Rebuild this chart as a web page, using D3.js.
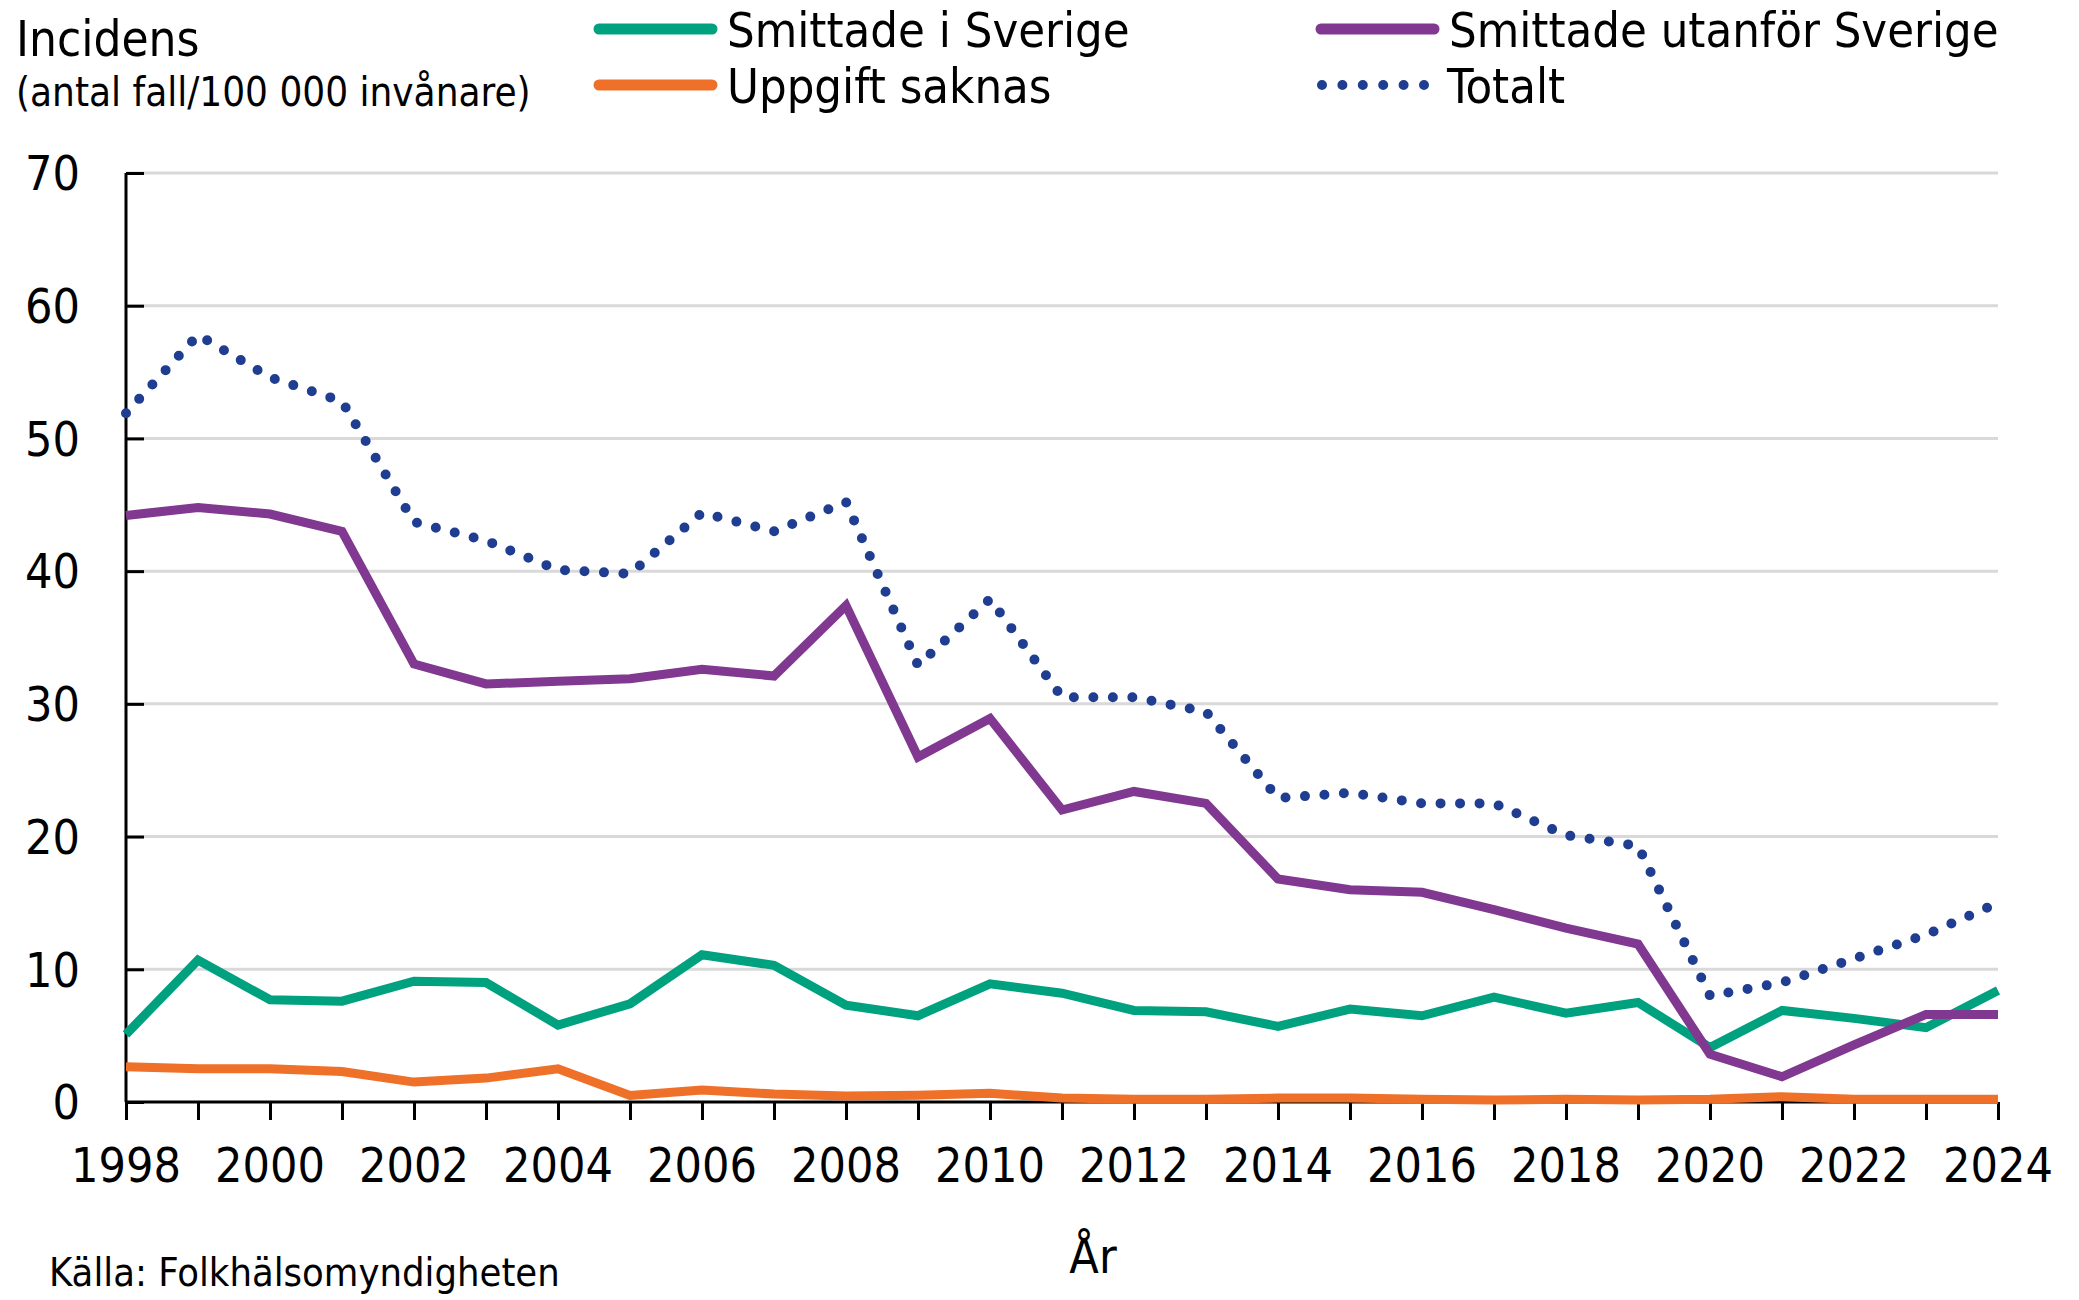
<!DOCTYPE html>
<html>
<head>
<meta charset="utf-8">
<script src="https://cdn.jsdelivr.net/npm/d3@7"></script>
<style>
  body { margin: 0; background: #fff; }
  svg text { font-family: "DejaVu Sans Condensed", "DejaVu Sans", sans-serif; fill: #000; }
</style>
</head>
<body>
<div id="chart"></div>
<script>
const years = d3.range(1998, 2025);

const smittadeSverige = [5.1, 10.7, 7.7, 7.6, 9.1, 9.0, 5.8, 7.4, 11.1, 10.3, 7.3, 6.5, 8.9, 8.2,
  6.9, 6.8, 5.7, 7.0, 6.5, 7.9, 6.7, 7.5, 4.1, 6.9, 6.3, 5.6, 8.4];
const smittadeUtanfor = [44.2, 44.8, 44.3, 43.0, 33.0, 31.5, 31.7, 31.9, 32.6, 32.1, 37.4, 26.0, 28.9, 22.0,
  23.4, 22.5, 16.8, 16.0, 15.8, 14.5, 13.1, 11.9, 3.6, 1.9, 4.3, 6.6, 6.6];
const uppgiftSaknas = [2.65, 2.5, 2.5, 2.3, 1.5, 1.8, 2.5, 0.5, 0.9, 0.6, 0.45, 0.5, 0.65, 0.3,
  0.2, 0.2, 0.3, 0.3, 0.2, 0.15, 0.2, 0.15, 0.2, 0.4, 0.2, 0.2, 0.2];
const totalt = [51.9, 57.8, 54.6, 52.8, 43.7, 42.3, 40.1, 39.8, 44.4, 43.0, 45.2, 32.9, 37.9, 30.5,
  30.5, 29.4, 22.9, 23.3, 22.5, 22.5, 20.1, 19.3, 8.0, 9.0, 10.8, 12.6, 15.0];

const yTicks = [0, 10, 20, 30, 40, 50, 60, 70];
const xLabelYears = d3.range(1998, 2025, 2);

const series = [
  { name: "Smittade i Sverige", values: smittadeSverige, color: "#00a17f" },
  { name: "Smittade utanför Sverige", values: smittadeUtanfor, color: "#803890" },
  { name: "Uppgift saknas", values: uppgiftSaknas, color: "#ee7029" },
  { name: "Totalt", values: totalt, color: "#1f3d91", dotted: true }
];

const W = 2079, H = 1300;
const margin = { top: 173, right: 81, bottom: 198, left: 126 };
const width = W - margin.left - margin.right;
const height = H - margin.top - margin.bottom;

const svg = d3.select("#chart").append("svg")
  .attr("width", W)
  .attr("height", H);

const g = svg.append("g")
  .attr("transform", `translate(${margin.left},${margin.top})`);

const x = d3.scaleLinear().domain([1998, 2024]).range([0, width]);
const y = d3.scaleLinear().domain([0, 70]).range([height, 0]);

// gridlines
g.append("g")
  .selectAll("line")
  .data(yTicks.filter(d => d > 0))
  .enter().append("line")
  .attr("x1", 0)
  .attr("x2", width)
  .attr("y1", d => y(d))
  .attr("y2", d => y(d))
  .attr("stroke", "#d9d9d9")
  .attr("stroke-width", 3);

// y axis: ticks point inward, labels placed by hand further left
const yAxis = g.append("g")
  .call(d3.axisRight(y).tickValues(yTicks).tickSize(18).tickFormat(""));
yAxis.select(".domain").attr("stroke", "#000").attr("stroke-width", 3).attr("d", `M0,${height}V0`);
yAxis.selectAll(".tick line").attr("stroke", "#000").attr("stroke-width", 3);

g.append("g")
  .selectAll("text")
  .data(yTicks)
  .enter().append("text")
  .attr("x", -46)
  .attr("y", d => y(d))
  .attr("dy", "0.36em")
  .attr("text-anchor", "end")
  .attr("font-size", 48)
  .text(d => d);

// x axis
const xAxis = g.append("g")
  .attr("transform", `translate(0,${height})`)
  .call(d3.axisBottom(x).tickValues(years).tickSize(18).tickFormat(""));
xAxis.select(".domain").attr("stroke", "#000").attr("stroke-width", 3).attr("d", `M0,0H${width}`);
xAxis.selectAll(".tick line").attr("stroke", "#000").attr("stroke-width", 3);

g.append("g")
  .selectAll("text")
  .data(xLabelYears)
  .enter().append("text")
  .attr("x", d => x(d))
  .attr("y", height + 80)
  .attr("text-anchor", "middle")
  .attr("font-size", 48)
  .text(d => d);

// lines
const line = d3.line()
  .x((d, i) => x(years[i]))
  .y(d => y(d));

series.forEach(s => {
  const p = g.append("path")
    .datum(s.values)
    .attr("fill", "none")
    .attr("stroke", s.color)
    .attr("d", line);
  if (s.dotted) {
    p.attr("stroke-width", 10)
      .attr("stroke-linecap", "round")
      .attr("stroke-dasharray", "0 19.5");
  } else {
    p.attr("stroke-width", 9)
      .attr("stroke-linejoin", "miter");
  }
});

// titles
svg.append("text").attr("x", 16).attr("y", 56).attr("font-size", 49).text("Incidens");
svg.append("text").attr("x", 16).attr("y", 106).attr("font-size", 40).text("(antal fall/100 000 invånare)");
svg.append("text").attr("x", 1093).attr("y", 1273).attr("font-size", 48).attr("text-anchor", "middle").text("År");
svg.append("text").attr("x", 49).attr("y", 1286).attr("font-size", 39.5).text("Källa: Folkhälsomyndigheten");

// legend
const legendPos = [
  { x: 594, y: 29 },
  { x: 1316, y: 29 },
  { x: 594, y: 85 },
  { x: 1316, y: 85 }
];
series.forEach((s, i) => {
  const lp = legendPos[i];
  const lg = svg.append("g").attr("transform", `translate(${lp.x},${lp.y})`);
  const ln = lg.append("line")
    .attr("x1", s.dotted ? 6 : 5).attr("x2", s.dotted ? 108 : 118)
    .attr("y1", 0).attr("y2", 0)
    .attr("stroke", s.color)
    .attr("stroke-linecap", "round");
  if (s.dotted) {
    ln.attr("stroke-width", 10).attr("stroke-dasharray", "0 20.4");
  } else {
    ln.attr("stroke-width", 11);
  }
  lg.append("text")
    .attr("x", s.dotted ? 131 : 133)
    .attr("y", 18)
    .attr("font-size", 48.5)
    .text(s.name);
});
</script>
</body>
</html>
